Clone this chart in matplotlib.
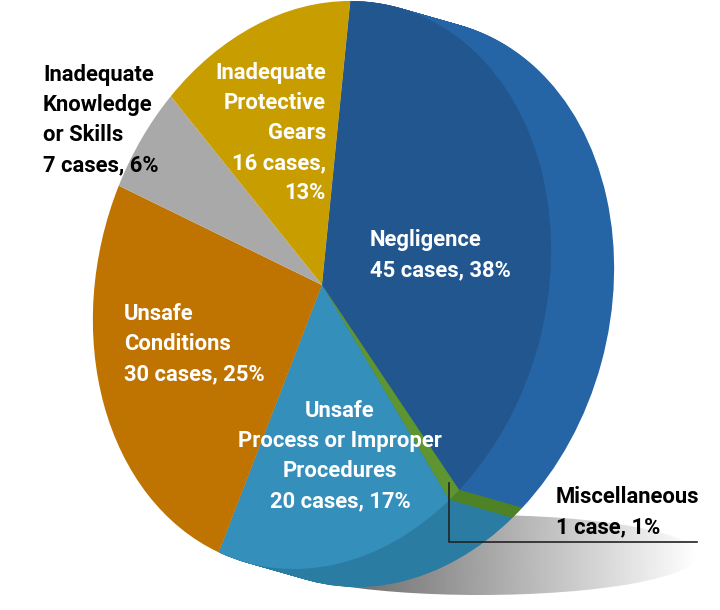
import numpy as np
import matplotlib
matplotlib.use('Agg')
import matplotlib.pyplot as plt
from matplotlib.patches import Ellipse
from matplotlib.transforms import Affine2D

categories = ['Negligence', 'Miscellaneous', 'Unsafe Process or Improper Procedures',
              'Unsafe Conditions', 'Inadequate Knowledge or Skills', 'Inadequate Protective Gears']
cases = [45, 1, 20, 30, 7, 16]
top_colors = ['#22568f', '#5f9530', '#348fbb', '#bf7300', '#a9a9a9', '#c89d00']
wall_colors = ['#2565a6', '#4d8226', '#2a7ca3', '#bf7300', '#a9a9a9', '#c89d00']

labels = [
    ('Negligence\n45 cases, 38%', 370, 229, 'white', 'left'),
    ('Miscellaneous\n1 case, 1%', 556, 486, 'black', 'left'),
    ('Unsafe\nProcess or Improper\nProcedures\n20 cases, 17%', 340, 400, 'white', 'center'),
    ('Unsafe\nConditions\n30 cases, 25%', 124, 303, 'white', 'left'),
    ('Inadequate\nKnowledge\nor Skills\n7 cases, 6%', 43, 64, 'black', 'left'),
    ('Inadequate\nProtective\nGears\n16 cases,\n13%', 326, 62, 'white', 'right'),
]

plt.rcParams['font.family'] = ['Roboto', 'DejaVu Sans']

fig = plt.figure(figsize=(7.2, 6.1), dpi=100)
ax = fig.add_axes([0, 0, 1, 1])


def draw_pie(colors, dx, dy, keep):
    # the face is a tilted ellipse, so the unit pie goes through a skewed transform
    tr = Affine2D.from_values(228.6, -15.6, 15.6, -283.6, 322 + dx, 285 + dy) + ax.transData
    wedges, _ = ax.pie(cases, colors=colors, startangle=86.8, counterclock=False)
    for i, w in enumerate(wedges):
        if i in keep:
            w.set_transform(tr)
            w.set_clip_on(False)
            w.set_linewidth(0)
        else:
            w.remove()


# floor shadow
shadow = ax.imshow(np.linspace(0.42, 1, 256).reshape(1, -1), cmap='gray', vmin=0, vmax=1,
                   extent=[345, 698, 596, 515], aspect='auto', zorder=0)
clip = Ellipse((480, 555), 436, 80, transform=ax.transData, fc='none', ec='none')
ax.add_patch(clip)
shadow.set_clip_path(clip)

# side wall, swept along the extrusion; order keeps the thin green rim a plain strip
for wedge_i in [2, 1, 0]:
    for s in np.linspace(1, 0, 70):
        draw_pie(wall_colors, 63 * s, 18 * s, [wedge_i])

draw_pie(top_colors, 0, 0, range(len(cases)))

ax.plot([449, 449, 697], [483, 542, 542], color='#222222', lw=1.2, zorder=5)

for text, x, y, color, ha in labels:
    ax.text(x, y, text, color=color, ha=ha, va='top', fontsize=15.8, fontweight='bold',
            linespacing=1.47, zorder=6)

ax.set_aspect('auto')
ax.set_xlim(0, 720)
ax.set_ylim(610, 0)
ax.axis('off')

fig.savefig('out.png', dpi=100)
